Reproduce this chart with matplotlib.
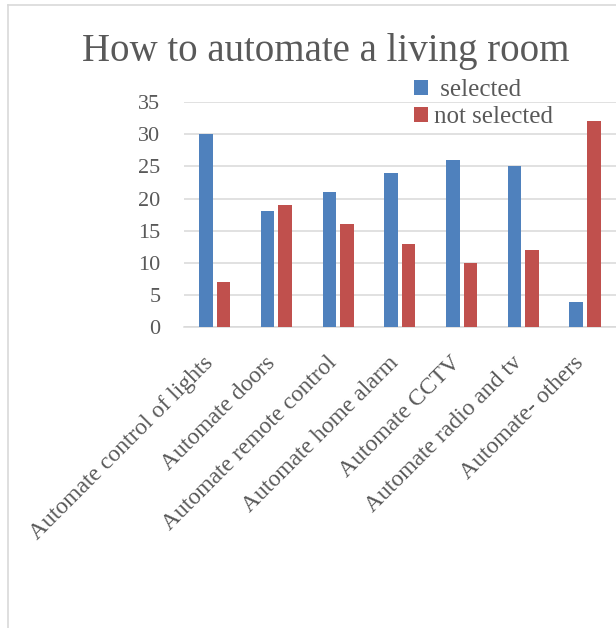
import matplotlib
matplotlib.use("Agg")
import matplotlib.pyplot as plt
import matplotlib.transforms as mtransforms
import numpy as np

plt.rcParams['font.family'] = ['Liberation Serif', 'DejaVu Serif']

categories = ['Automate control of lights', 'Automate doors', 'Automate remote control',
              'Automate home alarm', 'Automate CCTV', 'Automate radio and tv',
              'Automate- others']
selected = [30, 18, 21, 24, 26, 25, 4]
not_selected = [7, 19, 16, 13, 10, 12, 32]
y_ticks = [0, 5, 10, 15, 20, 25, 30, 35]

text_col = '#595959'
grid_col = '#d9d9d9'
blue = '#4f81bd'
red = '#c0504d'

W, H = 616, 628
fig = plt.figure(figsize=(W / 100, H / 100), dpi=100)

# chart frame (left and top edges)
fig.add_artist(plt.Line2D([8 / W, 8 / W], [0, 1 - 5 / H], color=grid_col, lw=1.2))
fig.add_artist(plt.Line2D([8 / W, 1], [1 - 5 / H, 1 - 5 / H], color=grid_col, lw=1.2))

ax = fig.add_axes([184 / W, 1 - 327.3 / H, (W - 184) / W, 225.3 / H])
x = np.arange(len(categories))
bw = 0.22
ax.bar(x - 0.145, selected, bw, color=blue, label=' selected', zorder=3)
ax.bar(x + 0.14, not_selected, bw, color=red, label='not selected', zorder=3)

ax.set_xlim(-0.5, len(categories) - 0.5)
ax.set_ylim(0, 35)
ax.set_yticks(y_ticks)
ax.yaxis.grid(True, color=grid_col, lw=1.1, zorder=0)
for s in ['top', 'right', 'left']:
    ax.spines[s].set_visible(False)
ax.spines['bottom'].set_color(grid_col)
ax.spines['bottom'].set_linewidth(1.1)
ax.tick_params(axis='y', length=0, pad=17, labelsize=16, labelcolor=text_col)
ax.tick_params(axis='x', length=0, pad=18, labelsize=17, labelcolor=text_col)

ax.set_xticks(x)
ax.set_xticklabels(categories, rotation=45, ha='right', va='top')
shift = mtransforms.ScaledTranslation(3 / 100, 0, fig.dpi_scale_trans)
for lab in ax.get_xticklabels():
    lab.set_transform(lab.get_transform() + shift)

fig.text(326 / W, 1 - 61 / H, 'How to automate a living room', ha='center',
         va='baseline', fontsize=28, color=text_col)

leg = fig.legend(loc='upper left', bbox_to_anchor=(414 / W, 1 - 79 / H), frameon=False,
                 fontsize=18, handlelength=0.55, handleheight=0.55, handletextpad=0.25,
                 labelspacing=0.2, borderpad=0, borderaxespad=0)
for t in leg.get_texts():
    t.set_color(text_col)

fig.savefig('out.png', dpi=100)
